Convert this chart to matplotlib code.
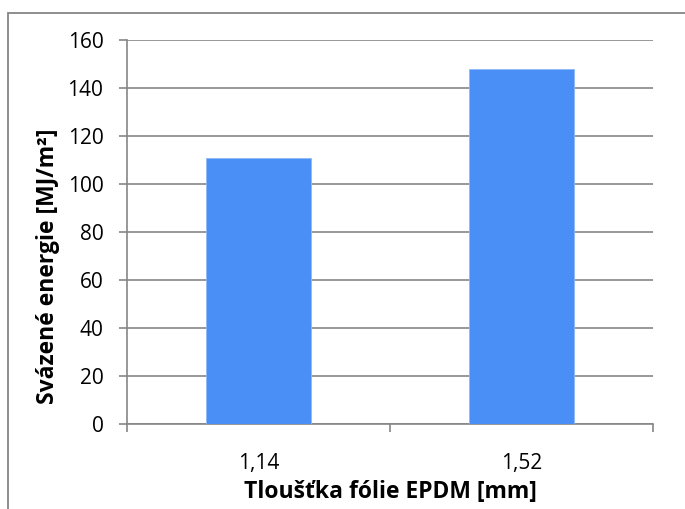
import matplotlib.pyplot as plt
from matplotlib.patches import Rectangle

thickness = ['1,14', '1,52']
energy = [111, 148]
yticks = [0, 20, 40, 60, 80, 100, 120, 140, 160]

plt.rcParams['font.family'] = ['Open Sans', 'DejaVu Sans']

fig = plt.figure(figsize=(6.85, 5.09), dpi=100)
W, H = 685, 509
ax = fig.add_axes([127 / W, 1 - 424 / H, (653 - 127) / W, (424 - 40) / H])

# outer chart frame (cut off at right and bottom)
fig.patches.append(Rectangle((8 / W, -0.1), 1.2, 1 - 13 / H + 0.1,
                             transform=fig.transFigure, fill=False,
                             edgecolor='#868686', linewidth=1.3))

x = range(len(thickness))
ax.bar(x, energy, width=0.4, color='#4a8ff6', edgecolor='#8fb8f8',
       linewidth=0.6, zorder=3)

ax.set_xlim(-0.5, 1.5)
ax.set_ylim(0, 160)
ax.set_yticks(yticks)
ax.set_yticklabels([str(v) for v in yticks])
ax.yaxis.grid(True, color='#868686', linewidth=1.2, zorder=0)

ax.set_xticks(list(x))
ax.set_xticklabels(thickness)
ax.tick_params(axis='x', length=0, labelsize=15, pad=21, colors='#000000')
# x tick marks at category boundaries
ax.set_xticks([-0.5, 0.5, 1.5], minor=True)
ax.tick_params(axis='x', which='minor', length=6, width=1.2, color='#868686',
               direction='out')
ax.tick_params(axis='y', length=6, width=1.2, color='#868686', labelsize=15,
               pad=11)

for s in ['top', 'right']:
    ax.spines[s].set_visible(False)
for s in ['left', 'bottom']:
    ax.spines[s].set_color('#868686')
    ax.spines[s].set_linewidth(1.2)

ax.set_ylabel('Svázené energie [MJ/m²]', fontsize=16.5, fontweight='bold')
ax.yaxis.set_label_coords(-0.128, 0.41)
ax.set_xlabel('Tloušťka fólie EPDM [mm]', fontsize=16.5, fontweight='bold',
              labelpad=4)

fig.savefig('out.png', dpi=100)
